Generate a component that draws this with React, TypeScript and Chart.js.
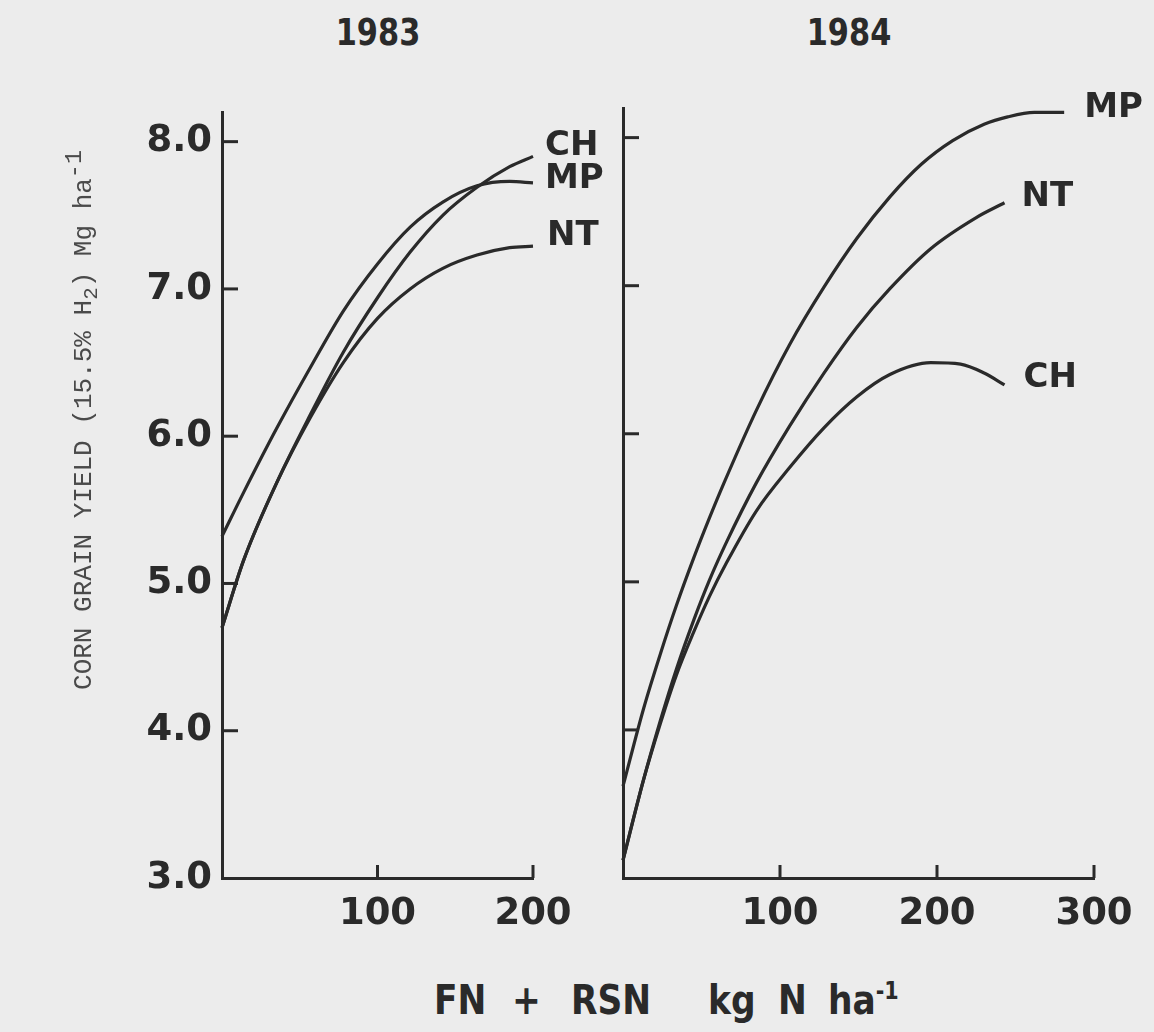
import React, { useEffect, useRef } from "react";
import { Chart, registerables } from "chart.js";

Chart.register(...registerables);

// ---- Data ----
const Y_TICKS = [3, 4, 5, 6, 7, 8];
const X_TICKS_1983 = [100, 200];
const X_TICKS_1984 = [100, 200, 300];

// 1983 (FN + RSN, kg N/ha -> corn grain yield, Mg/ha)
const N_1983 = [0, 14, 35, 57, 78, 100, 121, 142, 164, 185, 200];
const CH_1983 = [4.7, 5.16, 5.68, 6.15, 6.57, 6.94, 7.25, 7.5, 7.69, 7.83, 7.9];
const MP_1983 = [5.32, 5.62, 6.05, 6.47, 6.85, 7.17, 7.42, 7.59, 7.7, 7.73, 7.72];
const NT_1983 = [4.7, 5.16, 5.68, 6.13, 6.5, 6.8, 7.0, 7.14, 7.23, 7.28, 7.29];

// 1984
const N_1984_MP = [0, 13, 24, 34, 45, 55, 64, 85, 106, 128, 149, 170, 190, 210, 230, 245, 262, 281];
const MP_1984 = [3.62, 4.14, 4.52, 4.84, 5.16, 5.43, 5.66, 6.16, 6.6, 6.99, 7.32, 7.6, 7.82, 7.98, 8.09, 8.14, 8.17, 8.17];
const N_1984_NT = [0, 13, 24, 34, 45, 55, 66, 85, 106, 128, 149, 170, 196, 225, 243];
const NT_1984 = [3.12, 3.66, 4.07, 4.41, 4.74, 5.01, 5.27, 5.67, 6.05, 6.41, 6.72, 6.98, 7.25, 7.46, 7.56];
const N_1984_CH = [0, 13, 24, 34, 45, 55, 66, 85, 106, 128, 149, 170, 196, 215, 230, 243];
const CH_1984 = [3.12, 3.66, 4.05, 4.37, 4.66, 4.9, 5.13, 5.48, 5.77, 6.04, 6.25, 6.4, 6.48, 6.47, 6.41, 6.33];

// ---- Styles ----
const INK = "#2a2a2a";
const BG = "#ececec";
const BOLD = '"DejaVu Sans", "Open Sans", sans-serif';

const pts = (xs: number[], ys: number[]) => xs.map((x, i) => ({ x, y: ys[i] }));

const panelDecor = {
  id: "panelDecor",
  afterDraw(chart: any, _args: any, opts: any) {
    const { ctx } = chart;
    const xs = chart.scales.x;
    const ys = chart.scales.y;
    ctx.save();
    ctx.strokeStyle = INK;
    ctx.lineWidth = 3;
    (opts.yTicks as number[]).forEach((v) => {
      if (v <= ys.min) return;
      const py = ys.getPixelForValue(v);
      ctx.beginPath();
      ctx.moveTo(xs.left, py);
      ctx.lineTo(xs.left + 16, py);
      ctx.stroke();
    });
    (opts.xTicks as number[]).forEach((v) => {
      const px = xs.getPixelForValue(v);
      ctx.beginPath();
      ctx.moveTo(px, ys.bottom);
      ctx.lineTo(px, ys.bottom - 13);
      ctx.stroke();
    });
    ctx.fillStyle = INK;
    ctx.font = `bold 34px ${BOLD}`;
    ctx.textBaseline = "middle";
    ctx.textAlign = "left";
    chart.data.datasets.forEach((ds: any, i: number) => {
      const meta = chart.getDatasetMeta(i);
      const last = meta.data[meta.data.length - 1];
      const off = opts.offsets[ds.label] || [12, -6];
      ctx.fillText(ds.label, last.x + off[0], last.y + off[1]);
    });
    ctx.restore();
  },
};

function makeConfig(
  datasets: { label: string; data: { x: number; y: number }[] }[],
  xMax: number,
  xTicks: number[],
  showYLabels: boolean,
  yWidth: number,
  padRight: number,
  offsets: Record<string, [number, number]>
): any {
  return {
    type: "line",
    data: {
      datasets: datasets.map((d) => ({
        label: d.label,
        data: d.data,
        borderColor: INK,
        borderWidth: 3.2,
        pointRadius: 0,
        fill: false,
        cubicInterpolationMode: "monotone",
        clip: false,
      })),
    },
    options: {
      animation: false,
      responsive: false,
      devicePixelRatio: 1,
      layout: { padding: { top: 28, right: padRight, left: 0, bottom: 0 } },
      plugins: {
        legend: { display: false },
        tooltip: { enabled: false },
        panelDecor: { yTicks: Y_TICKS, xTicks, offsets },
      },
      scales: {
        x: {
          type: "linear",
          min: 0,
          max: xMax,
          afterBuildTicks: (s: any) => {
            s.ticks = xTicks.map((v) => ({ value: v }));
          },
          afterFit: (s: any) => {
            s.height = 82;
          },
          grid: { display: false, drawTicks: false },
          border: { display: true, color: INK, width: 3 },
          ticks: {
            color: INK,
            padding: 14,
            maxRotation: 0,
            minRotation: 0,
            autoSkip: false,
            font: { family: BOLD, weight: "bold", size: 37 },
            callback: (v: any) => String(v),
          },
        },
        y: {
          type: "linear",
          min: 3,
          max: 8.2,
          afterBuildTicks: (s: any) => {
            s.ticks = Y_TICKS.map((v) => ({ value: v }));
          },
          afterFit: (s: any) => {
            s.width = yWidth;
          },
          grid: { display: false, drawTicks: false },
          border: { display: true, color: INK, width: 3 },
          ticks: {
            display: showYLabels,
            color: INK,
            padding: 10,
            font: { family: BOLD, weight: "bold", size: 37 },
            callback: (v: any) => Number(v).toFixed(1),
          },
        },
      },
    },
    plugins: [panelDecor],
  };
}

export default function App() {
  const leftRef = useRef<HTMLCanvasElement>(null);
  const rightRef = useRef<HTMLCanvasElement>(null);

  useEffect(() => {
    const left = new Chart(
      leftRef.current as HTMLCanvasElement,
      makeConfig(
        [
          { label: "CH", data: pts(N_1983, CH_1983) },
          { label: "MP", data: pts(N_1983, MP_1983) },
          { label: "NT", data: pts(N_1983, NT_1983) },
        ],
        200,
        X_TICKS_1983,
        true,
        122,
        97,
        { CH: [12, -10], MP: [12, -4], NT: [14, -10] }
      )
    );
    const right = new Chart(
      rightRef.current as HTMLCanvasElement,
      makeConfig(
        [
          { label: "MP", data: pts(N_1984_MP, MP_1984) },
          { label: "NT", data: pts(N_1984_NT, NT_1984) },
          { label: "CH", data: pts(N_1984_CH, CH_1984) },
        ],
        300,
        X_TICKS_1984,
        false,
        23,
        60,
        { MP: [20, -4], NT: [17, -6], CH: [19, -7] }
      )
    );
    return () => {
      left.destroy();
      right.destroy();
    };
  }, []);

  const title: React.CSSProperties = {
    position: "absolute",
    top: 10,
    width: 200,
    textAlign: "center",
    fontFamily: BOLD,
    fontWeight: "bold",
    fontSize: 38,
    lineHeight: "44px",
    color: INK,
    transform: "scaleX(0.8)",
  };

  const word: React.CSSProperties = {
    position: "absolute",
    top: 976,
    fontFamily: BOLD,
    fontWeight: "bold",
    fontSize: 41,
    lineHeight: "48px",
    height: 48,
    color: INK,
    whiteSpace: "pre",
    transform: "scaleX(0.84)",
    transformOrigin: "left center",
  };

  return (
    <div
      style={{
        position: "absolute",
        left: 0,
        top: 0,
        width: 1154,
        height: 1032,
        background: BG,
        overflow: "hidden",
      }}
    >
      <div style={{ ...title, left: 378 - 100 }}>1983</div>
      <div style={{ ...title, left: 849 - 100 }}>1984</div>

      <canvas
        ref={leftRef}
        width={530}
        height={880}
        style={{ position: "absolute", left: 100, top: 80, width: 530, height: 880 }}
      />
      <canvas
        ref={rightRef}
        width={554}
        height={880}
        style={{ position: "absolute", left: 600, top: 80, width: 554, height: 880 }}
      />

      <div
        style={{
          position: "absolute",
          left: 75 - 320,
          top: 420 - 16,
          width: 640,
          height: 32,
          lineHeight: "32px",
          textAlign: "center",
          transform: "rotate(-90deg)",
          fontFamily: '"Liberation Mono", "DejaVu Sans Mono", monospace',
          fontSize: 26,
          color: "#4a4a4a",
          whiteSpace: "pre",
        }}
      >
        CORN GRAIN YIELD (15.5% H<sub style={{ fontSize: "0.8em" }}>2</sub>) Mg ha
        <sup style={{ fontSize: "0.9em" }}>-1</sup>
      </div>

      <div style={{ ...word, left: 434 }}>FN</div>
      <div style={{ ...word, left: 512 }}>+</div>
      <div style={{ ...word, left: 571 }}>RSN</div>
      <div style={{ ...word, left: 708 }}>kg</div>
      <div style={{ ...word, left: 778 }}>N</div>
      <div style={{ ...word, left: 828 }}>
        ha
        <span style={{ position: "relative", top: -15, fontSize: "0.6em" }}>-1</span>
      </div>
    </div>
  );
}
